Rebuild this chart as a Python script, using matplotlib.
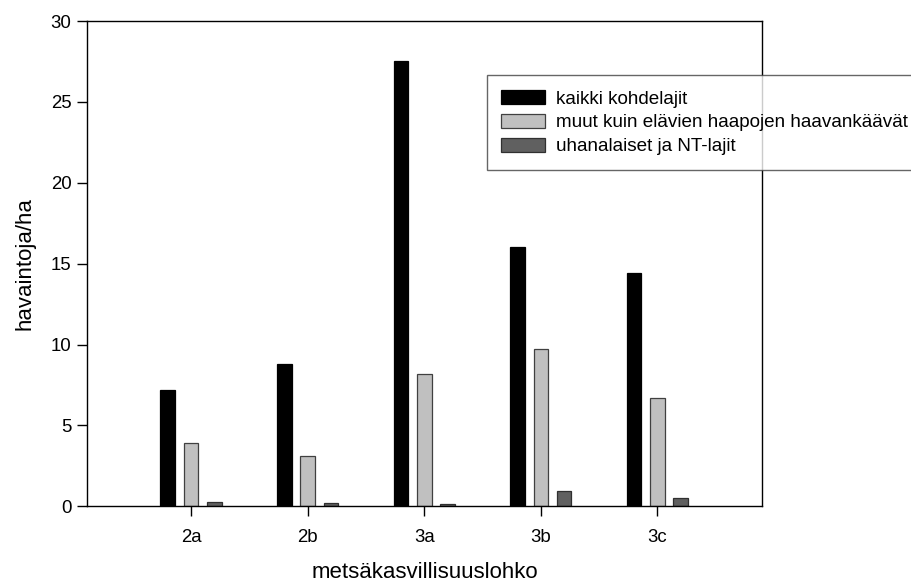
import numpy as np
from matplotlib import pyplot as plt

# Data
GROUPS = ["2a", "2b", "3a", "3b", "3c"]
ALL_SPECIES = [7.2, 8.8, 27.5, 16.05, 14.4]
NON_ASPEN = [3.9, 3.1, 8.15, 9.7, 6.7]
THREATENED = [0.25, 0.18, 0.15, 0.95, 0.5]
SERIES_LABELS = [
    "kaikki kohdelajit",
    "muut kuin elävien haapojen haavankäävät",
    "uhanalaiset ja NT-lajit",
]

plt.rcParams["font.family"] = ["Liberation Sans", "DejaVu Sans"]

fig = plt.figure(figsize=(9.12, 5.84), dpi=100)
ax = fig.add_axes([0.0951, 0.133, 0.7408, 0.831])

x = np.arange(len(GROUPS))
width = 0.125
styles = [
    dict(color="#000000", edgecolor="#000000"),
    dict(color="#c0c0c0", edgecolor="#404040"),
    dict(color="#606060", edgecolor="#303030"),
]
handles = []
for i, (vals, lab, st) in enumerate(
    zip([ALL_SPECIES, NON_ASPEN, THREATENED], SERIES_LABELS, styles)
):
    b = ax.bar(x + (i - 1) * 0.2, vals, width, label=lab,
               facecolor=st["color"], edgecolor=st["edgecolor"], linewidth=0.9)
    handles.append(b)

ax.set_xlim(-0.895, 4.9)
ax.set_ylim(0, 30)
ax.set_yticks([0, 5, 10, 15, 20, 25, 30])
ax.set_xticks(x)
ax.set_xticklabels(GROUPS)
ax.tick_params(axis="both", direction="out", length=7, width=1, labelsize=13.4,
               colors="black")
ax.tick_params(axis="y", pad=4)
ax.tick_params(axis="x", pad=9)
for s in ax.spines.values():
    s.set_linewidth(1)
    s.set_color("black")

ax.set_ylabel("havaintoja/ha", fontsize=16, labelpad=11)
ax.set_xlabel("metsäkasvillisuuslohko", fontsize=16, labelpad=12)

leg = fig.legend(
    handles=handles,
    loc="upper left",
    bbox_to_anchor=(0.5336, 0.871),
    bbox_transform=fig.transFigure,
    fontsize=13.6,
    frameon=True,
    fancybox=False,
    borderaxespad=0,
    borderpad=0.78,
    handlelength=2.33,
    handleheight=0.74,
    handletextpad=0.55,
    labelspacing=0.34,
)
leg.get_frame().set_edgecolor("#404040")
leg.get_frame().set_linewidth(1)

plt.savefig("out.png", dpi=100)
